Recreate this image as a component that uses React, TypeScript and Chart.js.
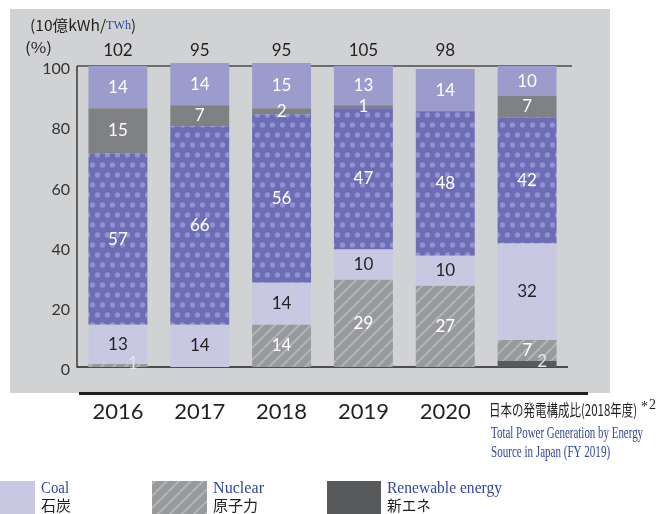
import React, { useEffect, useRef } from 'react';
import { Chart, registerables } from 'chart.js';

Chart.register(...registerables);

// ---------- data ----------
const categories = ['2016', '2017', '2018', '2019', '2020', '日本の発電構成比(2018年度)'];
const renewable = [0, 0, 0, 0, 0, 2];
const nuclear = [1, 0, 14, 29, 27, 7];
const coal = [13, 14, 14, 10, 10, 32];
const lng = [57, 66, 56, 47, 48, 42];
const oil = [15, 7, 2, 1, 0, 7];
const hydro = [14, 14, 15, 13, 14, 10];
const totals = [102, 95, 95, 105, 98, null];
const yTickValues = [0, 20, 40, 60, 80, 100];
const japanNoteEn = ['Total Power Generation by Energy', 'Source in Japan (FY 2019)'];
const legendEn = ['Coal', 'Nuclear', 'Renewable energy'];
const legendJa = ['石炭', '原子力', '新エネ'];
const unitLabel = ['(10億kWh/', 'TWh', ')'];
const percentLabel = '(%)';

const BLUE = '#33479a';
const INK = '#231f20';
const NUM_FONT = 'Lato, "Noto Sans", sans-serif';
const JP_FONT = '"Noto Sans CJK JP", "Noto Sans", sans-serif';
const SERIF = '"Liberation Serif", "DejaVu Serif", serif';

function makeDots(ctx: CanvasRenderingContext2D): CanvasPattern {
  const c = document.createElement('canvas');
  c.width = 10;
  c.height = 20;
  const g = c.getContext('2d')!;
  g.fillStyle = '#6d6db5';
  g.fillRect(0, 0, 10, 20);
  g.fillStyle = '#9292d2';
  const pts = [
    [2.5, 5],
    [7.5, 15],
  ];
  for (const [x, y] of pts) {
    g.beginPath();
    g.arc(x, y, 2.7, 0, Math.PI * 2);
    g.fill();
  }
  return ctx.createPattern(c, 'repeat')!;
}

function makeStripes(ctx: CanvasRenderingContext2D): CanvasPattern {
  const c = document.createElement('canvas');
  c.width = 12;
  c.height = 12;
  const g = c.getContext('2d')!;
  g.fillStyle = '#98999b';
  g.fillRect(0, 0, 12, 12);
  g.strokeStyle = '#b4b5b7';
  g.lineWidth = 2;
  for (const o of [-12, 0, 12]) {
    g.beginPath();
    g.moveTo(o, 12);
    g.lineTo(o + 12, 0);
    g.stroke();
  }
  return ctx.createPattern(c, 'repeat')!;
}

function drawText(
  c: CanvasRenderingContext2D,
  s: string,
  x: number,
  y: number,
  font: string,
  color: string,
  width?: number
) {
  c.save();
  c.font = font;
  c.fillStyle = color;
  c.textBaseline = 'middle';
  c.textAlign = 'left';
  const m = c.measureText(s).width;
  if (width && m > 0) {
    c.translate(x, y);
    c.scale(width / m, 1);
    c.fillText(s, 0, 0);
  } else {
    c.fillText(s, x, y);
  }
  c.restore();
}

export default function App() {
  const ref = useRef<HTMLCanvasElement>(null);

  useEffect(() => {
    const canvas = ref.current!;
    const ctx = canvas.getContext('2d')!;
    const dots = makeDots(ctx);
    const stripes = makeStripes(ctx);
    const fills: any[] = ['#58595b', stripes, '#c8c8e3', dots, '#808184', '#9b9bcc'];
    const series = [renewable, nuclear, coal, lng, oil, hydro];
    const names = ['Renewable energy', 'Nuclear', 'Coal', 'LNG', 'Oil', 'Hydro'];

    const deco = {
      id: 'deco',
      beforeDraw(chart: any) {
        const c = chart.ctx as CanvasRenderingContext2D;
        c.save();
        c.fillStyle = '#ffffff';
        c.fillRect(0, 0, 662, 514);
        c.fillStyle = '#d1d2d4';
        c.fillRect(10, 9, 600, 384);
        c.fillStyle = INK;
        c.fillRect(79, 392, 509, 3);
        c.restore();
      },
      beforeDatasetsDraw(chart: any) {
        const c = chart.ctx as CanvasRenderingContext2D;
        const { left, right, top, bottom } = chart.chartArea;
        c.save();
        c.strokeStyle = '#4a4a4c';
        c.lineWidth = 1.5;
        c.beginPath();
        c.moveTo(left, top);
        c.lineTo(right + 4, top);
        c.stroke();
        c.strokeStyle = INK;
        c.lineWidth = 1.3;
        c.beginPath();
        c.moveTo(left, top);
        c.lineTo(left, bottom);
        c.lineTo(right, bottom);
        c.stroke();
        c.restore();
      },
      afterDatasetsDraw(chart: any) {
        const c = chart.ctx as CanvasRenderingContext2D;
        c.save();
        c.textAlign = 'center';
        c.textBaseline = 'middle';
        chart.data.datasets.forEach((ds: any, di: number) => {
          const meta = chart.getDatasetMeta(di);
          meta.data.forEach((el: any, i: number) => {
            const v = ds.data[i];
            if (!v) return;
            const p = el.getProps(['x', 'y', 'base'], true);
            let cx = p.x;
            let cy = (p.y + p.base) / 2;
            if (v <= 2 && di <= 1) {
              cx += 15;
              cy -= 2;
            }
            c.font = `17px ${NUM_FONT}`;
            c.fillStyle = di === 2 ? INK : di <= 1 && v <= 2 ? '#e6e6e6' : '#ffffff';
            c.fillText(String(v), cx, cy);
          });
        });
        // totals above bars
        const xs = chart.scales.x;
        c.font = `17px ${NUM_FONT}`;
        c.fillStyle = INK;
        totals.forEach((t, i) => {
          if (t == null) return;
          c.fillText(String(t), xs.getPixelForValue(i), chart.chartArea.top - 15);
        });
        c.restore();
      },
      afterDraw(chart: any) {
        const c = chart.ctx as CanvasRenderingContext2D;
        // unit annotation
        drawText(c, unitLabel[0], 30, 25, `15px ${JP_FONT}`, INK, 76);
        drawText(c, unitLabel[1], 106, 26, `13px ${SERIF}`, BLUE, 25);
        drawText(c, unitLabel[2], 131, 25, `15px ${JP_FONT}`, INK, 5);
        drawText(c, percentLabel, 25, 47, `15px ${JP_FONT}`, INK, 27);

        // last category label
        const xs = chart.scales.x;
        const lx = xs.getPixelForValue(5) - 38;
        drawText(c, categories[5], lx, 410, `16px ${JP_FONT}`, INK, 148);
        drawText(c, '*', lx + 152, 407, `15px ${SERIF}`, INK, 7);
        drawText(c, '2', lx + 160, 405, `14px ${SERIF}`, INK, 7);
        drawText(c, japanNoteEn[0], lx + 2, 434, `16px ${SERIF}`, BLUE, 152);
        drawText(c, japanNoteEn[1], lx + 2, 453, `16px ${SERIF}`, BLUE, 119);

        // legend
        const sw = [
          [0, 35, fills[2]],
          [152, 55, fills[1]],
          [327, 54, fills[0]],
        ];
        const enW = [28, 51, 115];
        const jaW = [30, 45, 44];
        sw.forEach(([x, w, f]: any, i) => {
          c.save();
          c.fillStyle = f;
          c.fillRect(x, 481, w, 33);
          c.restore();
          const tx = x + w + 6;
          drawText(c, legendEn[i], tx, 489, `16px ${SERIF}`, BLUE, enW[i]);
          drawText(c, legendJa[i], tx, 505, `15px ${JP_FONT}`, INK, jaW[i]);
        });
      },
    };

    const chart = new Chart(canvas, {
      type: 'bar',
      data: {
        labels: categories,
        datasets: series.map((d, i) => ({
          label: names[i],
          data: d,
          backgroundColor: fills[i],
          borderWidth: 0,
          barPercentage: 0.72,
          categoryPercentage: 1,
          clip: false as any,
        })),
      },
      options: {
        responsive: false,
        devicePixelRatio: 1,
        animation: false,
        layout: { padding: { left: 0, top: 66, right: 94, bottom: 0 } },
        plugins: {
          legend: { display: false },
          tooltip: { enabled: false },
        },
        scales: {
          x: {
            stacked: true,
            grid: { display: false, drawTicks: false },
            border: { display: false },
            ticks: {
              padding: 32,
              color: INK,
              font: { family: NUM_FONT, size: 22 },
              callback: (_v: any, i: number) => (i === 5 ? '' : categories[i]),
              maxRotation: 0,
              autoSkip: false,
            },
            afterFit: (s: any) => {
              s.height = 147;
            },
          },
          y: {
            stacked: true,
            min: 0,
            max: 100,
            grid: { display: false, drawTicks: false },
            border: { display: false },
            afterBuildTicks: (s: any) => {
              s.ticks = yTickValues.map((v) => ({ value: v }));
            },
            ticks: {
              padding: 7,
              labelOffset: 3,
              color: '#333',
              font: { family: NUM_FONT, size: 16 },
            },
            afterFit: (s: any) => {
              s.width = 77;
            },
          },
        },
      },
      plugins: [deco],
    });

    return () => chart.destroy();
  }, []);

  return (
    <div style={{ position: 'absolute', left: 0, top: 0, width: 662, height: 514, background: '#fff' }}>
      <canvas ref={ref} width={662} height={514} style={{ display: 'block', width: 662, height: 514 }} />
    </div>
  );
}
